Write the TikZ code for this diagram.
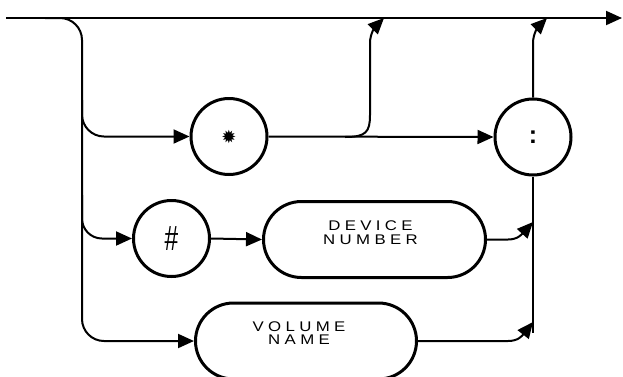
\documentclass[tikz,border=0pt]{standalone}
\usepackage{fontspec}
\usepackage{graphicx}
\setmainfont{Liberation Sans}
\newfontfamily\symfont{DejaVu Sans}
\newfontfamily\widefont[LetterSpace=26]{Liberation Sans}
\newcommand{\wideword}[2]{\scalebox{1.2}[1]{\begin{tabular}{@{}c@{}}#1\\#2\end{tabular}}}
\usetikzlibrary{arrows.meta,shapes.misc}
\begin{document}
\begin{tikzpicture}[x=1pt,y=-1pt,
  conn/.style={line width=2pt},
  arr/.style={-{Triangle[length=16pt,width=14pt]}},
  ring/.style={circle,draw,line width=3pt,minimum size=76pt,inner sep=0pt},
  pill/.style={rounded rectangle,draw,line width=3pt,minimum height=76pt,inner sep=0pt},
  lbl/.style={font=\widefont\fontsize{14}{13}\selectfont,inner sep=0pt}
]
\useasboundingbox (0,0) rectangle (623,376);

% terminals and boxes
\node[ring] (star) at (229,136.5) {\symfont\fontsize{18}{18}\selectfont ✹};
\node[ring] (colon) at (533,137) {\bfseries\fontsize{25}{25}\selectfont :};
\node[ring] (hash) at (171.5,238.5) {\scalebox{0.7}[1]{\fontsize{35}{35}\selectfont\#}};
\node[pill,minimum width=222pt,
  label={[lbl,xshift=-4pt,yshift=5pt]center:\wideword{DEVICE}{NUMBER}}] (dev) at (374.5,239.5) {};
\node[pill,minimum width=221pt,
  label={[lbl,xshift=-7pt,yshift=6pt]center:\wideword{VOLUME}{NAME}}] (vol) at (306,341) {};

% junction points
\coordinate (start) at (6,18);
\coordinate (finish) at (622,18);
\coordinate (split) at (45,18);
\coordinate (bendA) at (82,100);
\coordinate (bendB) at (82,195);
\coordinate (skip) at (345,137);
\coordinate (top1) at (384,18);
\coordinate (top2) at (547,18);
\coordinate (rail) at (533,333);
\coordinate (devjoin) at (533,222);
\coordinate (voljoin) at (533,322);

% main line
\draw[conn,arr] (start) -- (finish);

% left trunk and its branches
\draw[conn,arr,rounded corners=22pt] (split) -| (bendB) |- (vol.west);
\draw[conn,arr,rounded corners=22pt] (bendA) |- (star.west);
\draw[conn,arr,rounded corners=20pt] (bendB) |- (hash.west);

% middle connections
\draw[conn,arr] (star.east) -- (colon.west);
\draw[conn,arr] (hash.east) -- (dev.west);
\draw[conn,arr] (skip) .. controls (366,137) and (370,132) .. (370,115)
  -- (370,43) .. controls (370,33) and (376,26) .. (top1);

% right rail
\draw[conn,arr] (colon.north) -- (533,43) .. controls (533,33) and (539,26) .. (top2);
\draw[conn] (colon.south) -- (rail);
\draw[conn,arr] (dev.east) -- (508,239.5) .. controls (518,239.5) and (522,234) .. (devjoin);
\draw[conn,arr] (vol.east) -- (508,341) .. controls (518,341) and (522,336) .. (voljoin);
\end{tikzpicture}
\end{document}
